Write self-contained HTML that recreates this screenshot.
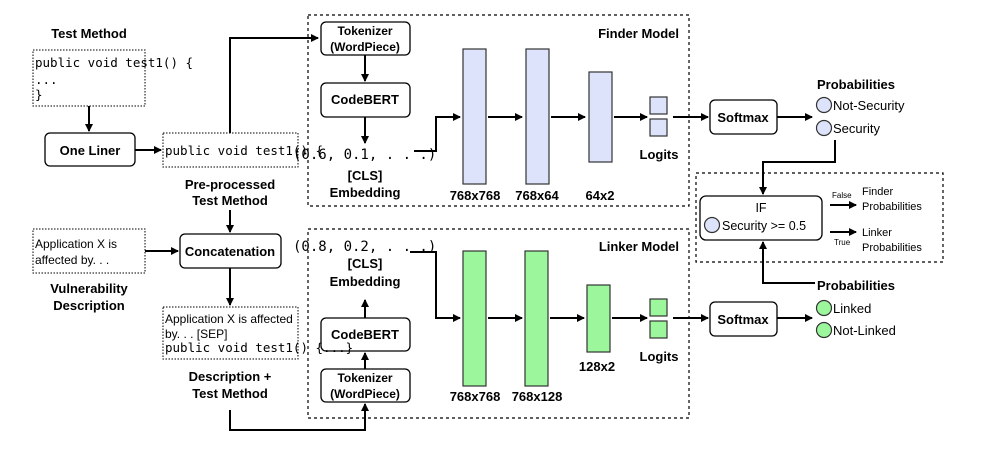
<!DOCTYPE html>
<html><head><meta charset="utf-8"><style>
body{margin:0;background:#fff}
svg{display:block}
text{font-family:"Liberation Sans",Arial,sans-serif;fill:#000}
.b{font-weight:bold;font-size:13px}
.m{font-family:"DejaVu Sans Mono","Liberation Mono",monospace;font-size:12.5px}
.s{font-size:12px}
</style></head><body>
<svg width="983" height="452" viewBox="0 0 983 452" xmlns="http://www.w3.org/2000/svg">
<defs><marker id="a" markerWidth="8" markerHeight="8" refX="7" refY="4" orient="auto" markerUnits="userSpaceOnUse"><path d="M0,0 L8,4 L0,8 Z" fill="#000"/></marker></defs>
<g fill="none" stroke="#000" stroke-width="1.2" stroke-dasharray="3,3">
<rect x="308" y="15" width="381" height="191"/>
<rect x="308" y="229" width="381" height="189"/>
<rect x="696" y="173" width="247" height="89"/>
</g>
<g fill="none" stroke="#000" stroke-width="1" stroke-dasharray="1.5,1.5">
<rect x="33" y="50" width="112" height="56"/>
<rect x="163" y="133" width="135" height="34"/>
<rect x="33" y="229" width="112" height="44"/>
<rect x="163" y="307" width="135" height="52"/>
</g>
<g fill="#fff" stroke="#000" stroke-width="1.3">
<rect x="45" y="133" width="90" height="33" rx="5"/>
<rect x="180" y="234" width="101" height="34" rx="5"/>
<rect x="321" y="22" width="89" height="33" rx="5"/>
<rect x="321" y="83" width="89" height="34" rx="5"/>
<rect x="321" y="318" width="89" height="33" rx="5"/>
<rect x="321" y="369" width="89" height="33" rx="5"/>
<rect x="710" y="100" width="67" height="34" rx="5"/>
<rect x="710" y="302" width="67" height="34" rx="5"/>
<rect x="700" y="196" width="122" height="44" rx="6"/>
</g>
<g fill="#dde3fa" stroke="#333" stroke-width="1.2">
<rect x="463" y="49" width="23" height="135"/>
<rect x="526" y="49" width="23" height="135"/>
<rect x="589" y="72" width="23" height="90"/>
<rect x="650" y="97" width="17" height="17"/>
<rect x="650" y="119" width="17" height="17"/>
<circle cx="824" cy="105" r="7.5"/>
<circle cx="824" cy="128" r="7.5"/>
<circle cx="712" cy="225" r="7.5"/>
</g>
<g fill="#9cf79c" stroke="#333" stroke-width="1.2">
<rect x="463" y="251" width="23" height="135"/>
<rect x="525" y="251" width="23" height="135"/>
<rect x="587" y="285" width="23" height="67"/>
<rect x="650" y="299" width="17" height="17"/>
<rect x="650" y="321" width="17" height="17"/>
<circle cx="824" cy="308" r="7.5"/>
<circle cx="824" cy="330" r="7.5"/>
</g>
<g fill="none" stroke="#000" stroke-width="2" marker-end="url(#a)">
<path d="M89,106 V131"/>
<path d="M135,150 H161"/>
<path d="M230,133 V38 H318"/>
<path d="M230,210 V232"/>
<path d="M145,251 H178"/>
<path d="M230,268 V305"/>
<path d="M230,410 V430 H365 V404"/>
<path d="M365,55 V81"/>
<path d="M365,117 V143"/>
<path d="M414,151 H436 V117 H460"/>
<path d="M488,117 H522"/>
<path d="M551,117 H585"/>
<path d="M614,117 H647"/>
<path d="M673,117 H708"/>
<path d="M777,117 H812"/>
<path d="M835,140 V162 H763 V194"/>
<path d="M830,205 H856"/>
<path d="M830,232 H856"/>
<path d="M815,283 H763 V242"/>
<path d="M365,369 V353"/>
<path d="M365,318 V300"/>
<path d="M410,252 H436 V318 H460"/>
<path d="M488,318 H522"/>
<path d="M550,318 H584"/>
<path d="M612,318 H647"/>
<path d="M673,318 H708"/>
<path d="M777,318 H812"/>
</g>
<text class="b" x="89" y="38" text-anchor="middle">Test Method</text>
<text class="m" x="35" y="67">public void test1() {</text>
<text class="m" x="35" y="84">  ...</text>
<text class="m" x="35" y="99">}</text>
<text class="b" x="90" y="155" text-anchor="middle">One Liner</text>
<text class="m" x="165" y="155">public void test1() {</text>
<text class="b" x="230" y="189" text-anchor="middle">Pre-processed</text>
<text class="b" x="230" y="205" text-anchor="middle">Test Method</text>
<text class="s" x="35" y="248">Application X is</text>
<text class="s" x="35" y="264">affected by. . .</text>
<text class="b" x="89" y="293" text-anchor="middle">Vulnerability</text>
<text class="b" x="89" y="310" text-anchor="middle">Description</text>
<text class="b" x="230" y="256" text-anchor="middle">Concatenation</text>
<text class="s" x="165" y="323">Application X is affected</text>
<text class="s" x="165" y="338">by. . . [SEP]</text>
<text class="m" x="165" y="352">public void test1() {...}</text>
<text class="b" x="230" y="381" text-anchor="middle">Description +</text>
<text class="b" x="230" y="398" text-anchor="middle">Test Method</text>
<text class="b" x="365" y="35" text-anchor="middle" style="font-size:12px">Tokenizer</text>
<text class="b" x="365" y="51" text-anchor="middle" style="font-size:12px">(WordPiece)</text>
<text class="b" x="365" y="104" text-anchor="middle">CodeBERT</text>
<text class="m" x="293" y="159" style="font-size:14px">(0.6, 0.1, . . .)</text>
<text class="b" x="365" y="180" text-anchor="middle">[CLS]</text>
<text class="b" x="365" y="197" text-anchor="middle">Embedding</text>
<text class="b" x="679" y="38" text-anchor="end">Finder Model</text>
<text class="b" x="475" y="200" text-anchor="middle">768x768</text>
<text class="b" x="537" y="200" text-anchor="middle">768x64</text>
<text class="b" x="600" y="200" text-anchor="middle">64x2</text>
<text class="b" x="659" y="159" text-anchor="middle">Logits</text>
<text class="m" x="293" y="251" style="font-size:14px">(0.8, 0.2, . . .)</text>
<text class="b" x="365" y="268" text-anchor="middle">[CLS]</text>
<text class="b" x="365" y="286" text-anchor="middle">Embedding</text>
<text class="b" x="365" y="339" text-anchor="middle">CodeBERT</text>
<text class="b" x="365" y="382" text-anchor="middle" style="font-size:12px">Tokenizer</text>
<text class="b" x="365" y="398" text-anchor="middle" style="font-size:12px">(WordPiece)</text>
<text class="b" x="679" y="251" text-anchor="end">Linker Model</text>
<text class="b" x="475" y="401" text-anchor="middle">768x768</text>
<text class="b" x="537" y="401" text-anchor="middle">768x128</text>
<text class="b" x="597" y="371" text-anchor="middle">128x2</text>
<text class="b" x="659" y="361" text-anchor="middle">Logits</text>
<text class="b" x="743" y="122" text-anchor="middle">Softmax</text>
<text class="b" x="743" y="324" text-anchor="middle">Softmax</text>
<text class="b" x="817" y="89">Probabilities</text>
<text x="833" y="110" font-size="13">Not-Security</text>
<text x="833" y="133" font-size="13">Security</text>
<text class="b" x="817" y="290">Probabilities</text>
<text x="833" y="313" font-size="13">Linked</text>
<text x="833" y="335" font-size="13">Not-Linked</text>
<text x="761" y="212" text-anchor="middle" font-size="12.5">IF</text>
<text x="722" y="230" font-size="12.5">Security &gt;= 0.5</text>
<text x="832" y="198" font-size="8">False</text>
<text x="862" y="195" font-size="11">Finder</text>
<text x="862" y="210" font-size="11">Probabilities</text>
<text x="834" y="245" font-size="8">True</text>
<text x="862" y="236" font-size="11">Linker</text>
<text x="862" y="251" font-size="11">Probabilities</text>
</svg>
</body></html>
